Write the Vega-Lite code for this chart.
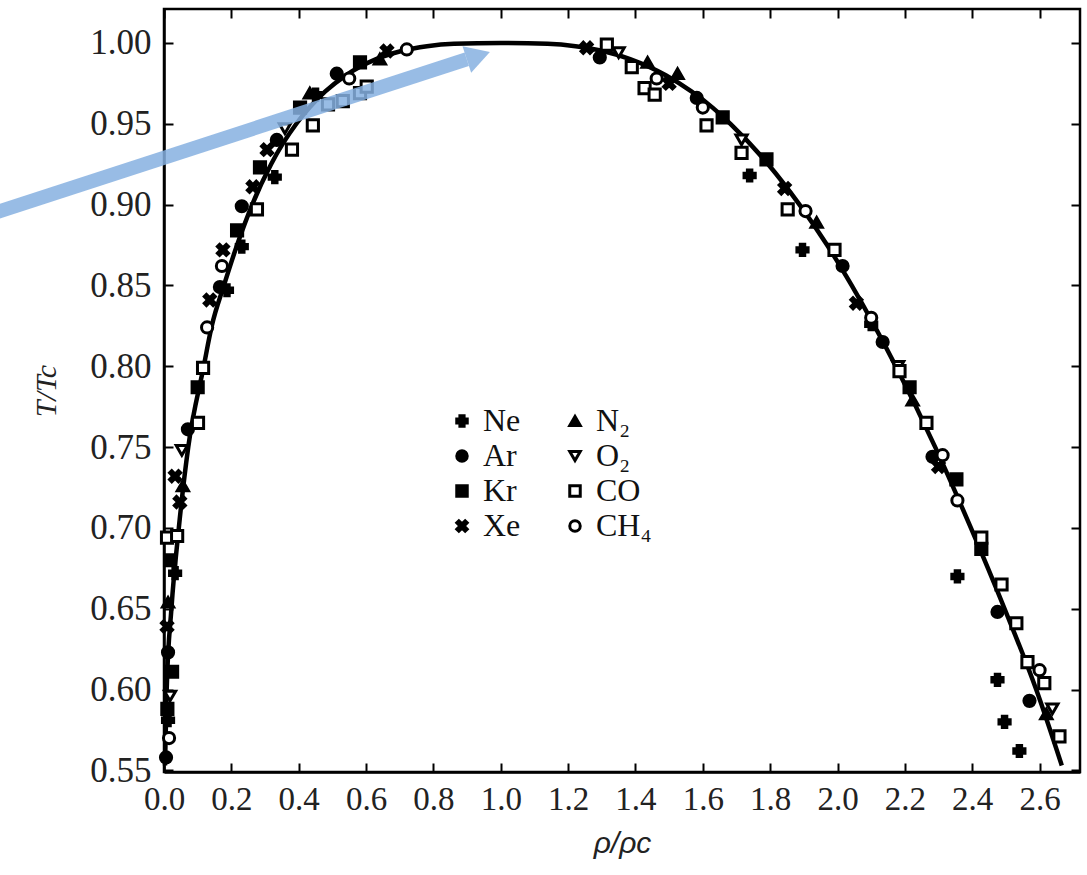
{
  "$schema": "https://vega.github.io/schema/vega-lite/v6.json",
  "width": 916,
  "height": 763,
  "autosize": {"type": "none"},
  "padding": {"left": 164, "top": 9, "right": 7, "bottom": 103},
  "background": "white",
  "config": {
    "view": {"stroke": "black", "strokeWidth": 2.5},
    "axis": {"domainColor": "black", "domainWidth": 2.5, "tickColor": "black", "tickWidth": 2, "grid": false, "labelColor": "#222222", "titleColor": "#222222"}
  },
  "datasets": {
    "curve": [
      {"x": 0.003, "y": 0.553}, {"x": 0.008, "y": 0.6}, {"x": 0.022, "y": 0.65}, {"x": 0.044, "y": 0.7},
      {"x": 0.072, "y": 0.75}, {"x": 0.118, "y": 0.8}, {"x": 0.142, "y": 0.825}, {"x": 0.178, "y": 0.85},
      {"x": 0.217, "y": 0.875}, {"x": 0.262, "y": 0.9}, {"x": 0.318, "y": 0.925}, {"x": 0.393, "y": 0.95},
      {"x": 0.432, "y": 0.96}, {"x": 0.479, "y": 0.97}, {"x": 0.54, "y": 0.98}, {"x": 0.63, "y": 0.99},
      {"x": 0.705, "y": 0.995}, {"x": 0.781, "y": 0.998}, {"x": 0.861, "y": 0.9995}, {"x": 1.0, "y": 1.0},
      {"x": 1.139, "y": 0.9995}, {"x": 1.222, "y": 0.998}, {"x": 1.303, "y": 0.995}, {"x": 1.384, "y": 0.99},
      {"x": 1.49, "y": 0.98}, {"x": 1.566, "y": 0.97}, {"x": 1.629, "y": 0.96}, {"x": 1.682, "y": 0.95},
      {"x": 1.794, "y": 0.925}, {"x": 1.887, "y": 0.9}, {"x": 1.969, "y": 0.875}, {"x": 2.042, "y": 0.85},
      {"x": 2.173, "y": 0.8}, {"x": 2.29, "y": 0.75}, {"x": 2.396, "y": 0.7}, {"x": 2.496, "y": 0.65},
      {"x": 2.59, "y": 0.6}, {"x": 2.666, "y": 0.553}
    ],
    "pts": [
      {"g": "Ne", "x": 0.187, "y": 0.847}, {"g": "Ne", "x": 0.231, "y": 0.874}, {"g": "Ne", "x": 0.329, "y": 0.917},
      {"g": "Ne", "x": 1.739, "y": 0.918}, {"g": "Ne", "x": 1.896, "y": 0.872}, {"g": "Ne", "x": 2.356, "y": 0.67},
      {"g": "Ne", "x": 2.475, "y": 0.606}, {"g": "Ne", "x": 2.496, "y": 0.58}, {"g": "Ne", "x": 2.54, "y": 0.562},
      {"g": "Ne", "x": 0.033, "y": 0.672}, {"g": "Ne", "x": 0.012, "y": 0.581}, {"g": "Ne", "x": 0.45, "y": 0.968},
      {"g": "Ne", "x": 2.1, "y": 0.826},
      {"g": "Ar", "x": 0.166, "y": 0.849}, {"g": "Ar", "x": 0.231, "y": 0.899}, {"g": "Ar", "x": 0.335, "y": 0.94},
      {"g": "Ar", "x": 0.513, "y": 0.981}, {"g": "Ar", "x": 1.294, "y": 0.991}, {"g": "Ar", "x": 1.582, "y": 0.966},
      {"g": "Ar", "x": 2.015, "y": 0.862}, {"g": "Ar", "x": 2.134, "y": 0.815}, {"g": "Ar", "x": 2.282, "y": 0.744},
      {"g": "Ar", "x": 2.475, "y": 0.648}, {"g": "Ar", "x": 0.071, "y": 0.761}, {"g": "Ar", "x": 0.012, "y": 0.623},
      {"g": "Ar", "x": 2.57, "y": 0.593}, {"g": "Ar", "x": 0.006, "y": 0.558},
      {"g": "Kr", "x": 0.217, "y": 0.884}, {"g": "Kr", "x": 0.285, "y": 0.923}, {"g": "Kr", "x": 0.404, "y": 0.96},
      {"g": "Kr", "x": 0.582, "y": 0.988}, {"g": "Kr", "x": 1.659, "y": 0.954}, {"g": "Kr", "x": 1.789, "y": 0.928},
      {"g": "Kr", "x": 2.214, "y": 0.787}, {"g": "Kr", "x": 2.353, "y": 0.73}, {"g": "Kr", "x": 2.427, "y": 0.687},
      {"g": "Kr", "x": 0.1, "y": 0.787}, {"g": "Kr", "x": 0.018, "y": 0.68}, {"g": "Kr", "x": 0.024, "y": 0.611},
      {"g": "Kr", "x": 0.01, "y": 0.588},
      {"g": "Xe", "x": 0.136, "y": 0.841}, {"g": "Xe", "x": 0.175, "y": 0.872}, {"g": "Xe", "x": 0.264, "y": 0.911},
      {"g": "Xe", "x": 0.306, "y": 0.934}, {"g": "Xe", "x": 0.662, "y": 0.995}, {"g": "Xe", "x": 1.255, "y": 0.997},
      {"g": "Xe", "x": 1.843, "y": 0.91}, {"g": "Xe", "x": 2.056, "y": 0.839}, {"g": "Xe", "x": 0.033, "y": 0.732},
      {"g": "Xe", "x": 0.047, "y": 0.716}, {"g": "Xe", "x": 0.009, "y": 0.639}, {"g": "Xe", "x": 2.3, "y": 0.738},
      {"g": "Xe", "x": 1.5, "y": 0.975},
      {"g": "N₂", "x": 0.433, "y": 0.969}, {"g": "N₂", "x": 0.641, "y": 0.99}, {"g": "N₂", "x": 1.436, "y": 0.988},
      {"g": "N₂", "x": 1.525, "y": 0.981}, {"g": "N₂", "x": 1.938, "y": 0.889}, {"g": "N₂", "x": 2.223, "y": 0.779},
      {"g": "N₂", "x": 0.056, "y": 0.726}, {"g": "N₂", "x": 0.012, "y": 0.654}, {"g": "N₂", "x": 2.62, "y": 0.585},
      {"g": "O₂", "x": 0.053, "y": 0.748}, {"g": "O₂", "x": 1.715, "y": 0.94}, {"g": "O₂", "x": 2.638, "y": 0.588},
      {"g": "O₂", "x": 0.359, "y": 0.947}, {"g": "O₂", "x": 2.18, "y": 0.8}, {"g": "O₂", "x": 0.018, "y": 0.596},
      {"g": "O₂", "x": 1.35, "y": 0.994},
      {"g": "CO", "x": 0.276, "y": 0.897}, {"g": "CO", "x": 0.38, "y": 0.934}, {"g": "CO", "x": 0.442, "y": 0.949},
      {"g": "CO", "x": 0.487, "y": 0.962}, {"g": "CO", "x": 0.531, "y": 0.964}, {"g": "CO", "x": 0.582, "y": 0.969},
      {"g": "CO", "x": 0.602, "y": 0.973}, {"g": "CO", "x": 1.315, "y": 0.999}, {"g": "CO", "x": 1.389, "y": 0.985},
      {"g": "CO", "x": 1.427, "y": 0.972}, {"g": "CO", "x": 1.457, "y": 0.968}, {"g": "CO", "x": 1.611, "y": 0.949},
      {"g": "CO", "x": 1.715, "y": 0.932}, {"g": "CO", "x": 1.852, "y": 0.897}, {"g": "CO", "x": 1.991, "y": 0.872},
      {"g": "CO", "x": 2.184, "y": 0.797}, {"g": "CO", "x": 2.264, "y": 0.765}, {"g": "CO", "x": 2.427, "y": 0.694},
      {"g": "CO", "x": 2.487, "y": 0.665}, {"g": "CO", "x": 2.531, "y": 0.641}, {"g": "CO", "x": 2.564, "y": 0.617},
      {"g": "CO", "x": 2.614, "y": 0.604}, {"g": "CO", "x": 2.659, "y": 0.571}, {"g": "CO", "x": 0.009, "y": 0.694},
      {"g": "CO", "x": 0.039, "y": 0.695}, {"g": "CO", "x": 0.101, "y": 0.765}, {"g": "CO", "x": 0.116, "y": 0.799},
      {"g": "CH₄", "x": 0.721, "y": 0.996}, {"g": "CH₄", "x": 1.463, "y": 0.978}, {"g": "CH₄", "x": 2.312, "y": 0.745},
      {"g": "CH₄", "x": 2.356, "y": 0.717}, {"g": "CH₄", "x": 0.128, "y": 0.824}, {"g": "CH₄", "x": 0.172, "y": 0.862},
      {"g": "CH₄", "x": 1.905, "y": 0.896}, {"g": "CH₄", "x": 2.1, "y": 0.83}, {"g": "CH₄", "x": 2.6, "y": 0.612},
      {"g": "CH₄", "x": 0.015, "y": 0.57}, {"g": "CH₄", "x": 0.55, "y": 0.978}, {"g": "CH₄", "x": 1.6, "y": 0.96}
    ],
    "arrowLine": [{"x": -0.546, "y": 0.892, "x2": 0.899, "y2": 0.9899}],
    "arrowHead": [{"x": 0.9335, "y": 0.9921}]
  },
  "layer": [
    {
      "data": {"name": "curve"},
      "mark": {"type": "line", "color": "black", "strokeWidth": 4.5, "interpolate": "monotone"},
      "encoding": {
        "x": {"field": "x", "type": "quantitative", "scale": {"domain": [0, 2.72], "nice": false, "zero": false},
          "axis": {"orient": "bottom", "title": "ρ/ρc", "values": [0, 0.2, 0.4, 0.6, 0.8, 1.0, 1.2, 1.4, 1.6, 1.8, 2.0, 2.2, 2.4, 2.6],
            "format": ".1f", "tickSize": -9, "labelPadding": 20, "labelFont": "Liberation Serif", "labelFontSize": 33,
            "labelFlush": false, "labelOverlap": false, "titleFont": "Liberation Sans", "titleFontStyle": "italic",
            "titleFontWeight": "normal", "titleFontSize": 30, "titlePadding": 12}},
        "y": {"field": "y", "type": "quantitative", "scale": {"domain": [0.549, 1.021], "nice": false, "zero": false},
          "axis": {"orient": "left", "title": "T/Tc", "values": [0.55, 0.6, 0.65, 0.7, 0.75, 0.8, 0.85, 0.9, 0.95, 1.0],
            "format": ".2f", "tickSize": -9, "labelPadding": 22, "labelFont": "Liberation Serif", "labelFontSize": 35,
            "labelFlush": false, "labelOverlap": false, "titleFont": "Liberation Serif", "titleFontStyle": "italic",
            "titleFontWeight": "normal", "titleFontSize": 30, "titlePadding": 28}}
      }
    },
    {
      "data": {"name": "pts"},
      "mark": {"type": "point", "filled": true, "size": 125, "strokeWidth": 3, "opacity": 1},
      "encoding": {
        "x": {"field": "x", "type": "quantitative",
          "axis": {"orient": "top", "title": null, "labels": false, "domain": false, "tickSize": -9,
            "values": [0, 0.2, 0.4, 0.6, 0.8, 1.0, 1.2, 1.4, 1.6, 1.8, 2.0, 2.2, 2.4, 2.6]}},
        "y": {"field": "y", "type": "quantitative",
          "axis": {"orient": "right", "title": null, "labels": false, "domain": false, "tickSize": -9,
            "values": [0.55, 0.6, 0.65, 0.7, 0.75, 0.8, 0.85, 0.9, 0.95, 1.0]}},
        "shape": {"field": "g", "type": "nominal",
          "scale": {"domain": ["Ne", "Ar", "Kr", "Xe", "N₂", "O₂", "CO", "CH₄"],
            "range": ["cross", "circle", "square", "M-1,-0.6L-0.6,-1L0,-0.4L0.6,-1L1,-0.6L0.4,0L1,0.6L0.6,1L0,0.4L-0.6,1L-1,0.6L-0.4,0Z",
              "triangle-up", "triangle-down", "square", "circle"]},
          "legend": {"orient": "none", "legendX": 282, "legendY": 396, "title": null, "columns": 2, "padding": 0,
            "columnPadding": 38, "rowPadding": 3, "labelFont": "Liberation Serif", "labelFontSize": 32,
            "labelColor": "#111111", "labelOffset": 5, "symbolSize": 110, "symbolStrokeWidth": 3, "symbolOpacity": 1}},
        "fill": {"field": "g", "type": "nominal",
          "scale": {"domain": ["Ne", "Ar", "Kr", "Xe", "N₂", "O₂", "CO", "CH₄"],
            "range": ["black", "black", "black", "black", "black", "white", "white", "white"]}},
        "stroke": {"field": "g", "type": "nominal",
          "scale": {"domain": ["Ne", "Ar", "Kr", "Xe", "N₂", "O₂", "CO", "CH₄"],
            "range": ["black", "black", "black", "black", "black", "black", "black", "black"]}}
      }
    },
    {
      "data": {"name": "arrowLine"},
      "mark": {"type": "rule", "color": "#86b0e0", "strokeWidth": 14, "opacity": 0.85, "strokeCap": "butt"},
      "encoding": {
        "x": {"field": "x", "type": "quantitative", "axis": null},
        "y": {"field": "y", "type": "quantitative", "axis": null},
        "x2": {"field": "x2"},
        "y2": {"field": "y2"}
      }
    },
    {
      "data": {"name": "arrowHead"},
      "mark": {"type": "point", "shape": "triangle-right", "filled": true, "size": 784, "angle": -18, "color": "#86b0e0", "opacity": 0.85},
      "encoding": {
        "x": {"field": "x", "type": "quantitative", "axis": null},
        "y": {"field": "y", "type": "quantitative", "axis": null}
      }
    }
  ],
  "resolve": {"axis": {"x": "independent", "y": "independent"}}
}
